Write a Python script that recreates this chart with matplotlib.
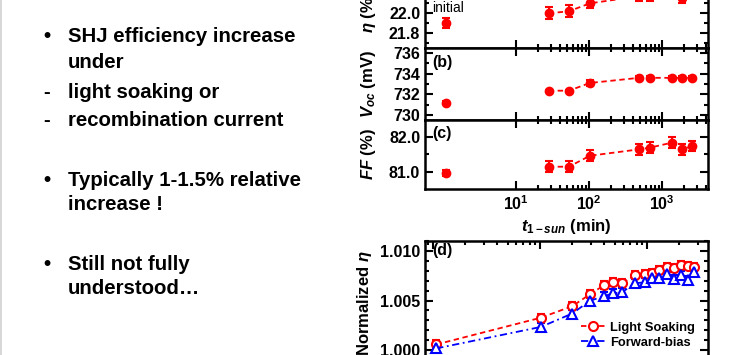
import matplotlib
matplotlib.use('Agg')
import matplotlib.pyplot as plt
from matplotlib.ticker import MultipleLocator, LogLocator, NullFormatter, FixedLocator
from matplotlib.lines import Line2D

plt.rcParams['font.family'] = ['Liberation Sans', 'DejaVu Sans']
plt.rcParams['font.weight'] = 'bold'
plt.rcParams['axes.labelweight'] = 'bold'
plt.rcParams['mathtext.fontset'] = 'custom'
plt.rcParams['mathtext.rm'] = 'Liberation Sans:bold'
plt.rcParams['mathtext.it'] = 'Liberation Sans:italic:bold'
plt.rcParams['mathtext.bf'] = 'Liberation Sans:bold'

# bullet text on the left
bullets = [('•', 'SHJ efficiency increase'), ('', 'under'),
           ('-', 'light soaking or'), ('-', 'recombination current'),
           ('•', 'Typically 1-1.5% relative'), ('', 'increase !'),
           ('•', 'Still not fully'), ('', 'understood…')]
bullet_y = [37, 62, 92, 121, 180, 204, 264, 288]

# panels (a)-(c): time under 1-sun (min)
t_sun = [1.1, 28, 53, 103, 484, 686, 1371, 1879, 2573]
eta = [21.9, 22.0, 22.02, 22.1, 22.17, 22.17, 22.22, 22.15, 22.2]
eta_err = [0.05, 0.06, 0.06, 0.05, 0.05, 0.05, 0.05, 0.05, 0.05]
voc = [731.2, 732.35, 732.35, 733.1, 733.6, 733.6, 733.6, 733.6, 733.6]
voc_err = [0.15, 0.1, 0.1, 0.3, 0.15, 0.15, 0.15, 0.15, 0.15]
ff = [80.98, 81.15, 81.15, 81.46, 81.64, 81.69, 81.83, 81.64, 81.73]
ff_err = [0.08, 0.15, 0.15, 0.15, 0.15, 0.15, 0.15, 0.15, 0.15]
major_t = [10, 100, 1000]
minor_t = [20, 30, 40, 50, 60, 70, 80, 90, 200, 300, 400, 500, 600, 700,
           800, 900, 2000, 3000, 4000]

# panel (d): normalized efficiency
t_d = [0.107, 1.02, 2.0, 2.93, 3.96, 4.81, 5.84, 7.73, 9.57, 11.1,
       13.0, 15.4, 17.9, 20.8, 24.2, 27.5]
ls_norm = [1.00057, 1.00327, 1.00443, 1.00563, 1.00654, 1.00684, 1.00674,
           1.00755, 1.00765, 1.00775, 1.00805, 1.00835, 1.00825, 1.00855,
           1.00845, 1.00835]
fb_norm = [1.00017, 1.00234, 1.00369, 1.00498, 1.00543, 1.00573, 1.00583,
           1.00674, 1.00684, 1.00724, 1.00724, 1.00765, 1.00714, 1.00755,
           1.00704, 1.00785]
norm_err = 0.0004

W, H = 738, 355
fig = plt.figure(figsize=(W / 100, H / 100), dpi=100)

def ax_px(x0, y0, x1, y1):
    return fig.add_axes([x0 / W, 1 - y1 / H, (x1 - x0) / W, (y1 - y0) / H])

fig.add_artist(Line2D([0.002, 0.002], [0, 1], color='#d0d0d0', lw=1.2))

for (mark, txt), y in zip(bullets, bullet_y):
    fig.text(43 / W, 1 - y / H, mark, fontsize=14.7, ha='left', va='center')
    fig.text(68 / W, 1 - y / H, txt, fontsize=14.7, ha='left', va='center')

red = '#ff0000'
blue = '#0000ff'
ls_red = (0, (3, 2))
ls_blue = (0, (4, 2, 1, 2))

def style(ax):
    for s in ax.spines.values():
        s.set_linewidth(1.8)
    ax.tick_params(which='both', direction='in', top=True, right=True,
                   width=1.5, labelsize=11.5)
    ax.tick_params(which='major', length=6)
    ax.tick_params(which='minor', length=3)

axa = ax_px(425, -24, 708, 48)
axb = ax_px(425, 48, 708, 120)
axc = ax_px(425, 120, 708, 189)

for ax, vals, err in [(axa, eta, eta_err), (axb, voc, voc_err), (axc, ff, ff_err)]:
    ax.errorbar(t_sun[:1], vals[:1], yerr=err[:1], fmt='o', color=red, ms=6,
                capsize=3, elinewidth=1.5, capthick=1.5)
    ax.errorbar(t_sun[1:], vals[1:], yerr=err[1:], fmt='o', color=red, ms=6,
                capsize=3, elinewidth=1.5, capthick=1.5, ls=ls_red, lw=1.3)
    ax.set_xscale('log')
    ax.set_xlim(0.567, 4266)
    ax.xaxis.set_major_locator(FixedLocator(major_t))
    ax.xaxis.set_minor_locator(FixedLocator(minor_t))
    ax.xaxis.set_minor_formatter(NullFormatter())
    style(ax)

axa.set_ylim(21.653, 22.373)
axa.yaxis.set_major_locator(MultipleLocator(0.2))
axa.yaxis.set_minor_locator(MultipleLocator(0.1))
axa.yaxis.set_major_formatter('{x:.1f}')
axa.set_ylabel(r'$\eta$ (%)', fontsize=12)
axa.text(0.025, 0.555, 'initial', transform=axa.transAxes, fontsize=10,
         fontweight='normal', ha='left', va='center')

axb.set_ylim(729.5, 736.5)
axb.yaxis.set_major_locator(MultipleLocator(2))
axb.yaxis.set_minor_locator(MultipleLocator(1))
axb.set_ylabel(r'$V_{oc}$ (mV)', fontsize=12)
axb.text(0.025, 0.8, '(b)', transform=axb.transAxes, fontsize=11.5, va='center')

axc.set_ylim(80.52, 82.47)
axc.yaxis.set_major_locator(MultipleLocator(1.0))
axc.yaxis.set_minor_locator(MultipleLocator(0.5))
axc.yaxis.set_major_formatter('{x:.1f}')
axc.set_ylabel(r'$FF$ (%)', fontsize=12)
axc.text(0.025, 0.8, '(c)', transform=axc.transAxes, fontsize=11.5, va='center')
axc.set_xlabel(r'$t_{1-sun}$ (min)', fontsize=12, labelpad=3)

axa.tick_params(labelbottom=False)
axb.tick_params(labelbottom=False)
for ax in (axa, axb, axc):
    ax.yaxis.set_label_coords(-0.165, 0.5)

axd = ax_px(425, 241, 708, 365)
axd.errorbar(t_d, ls_norm, yerr=norm_err, fmt='o', mfc='white', mec=red,
             color=red, ms=6.5, mew=1.5, capsize=3, elinewidth=1.3, capthick=1.3,
             ls=ls_red, lw=1.3)
axd.errorbar(t_d, fb_norm, yerr=norm_err, fmt='^', mfc='white', mec=blue,
             color=blue, ms=6.5, mew=1.5, capsize=3, elinewidth=1.3, capthick=1.3,
             ls=ls_blue, lw=1.3)
axd.set_xscale('log')
axd.set_xlim(0.084, 37.2)
axd.xaxis.set_minor_locator(LogLocator(base=10, subs=range(2, 10), numticks=20))
axd.xaxis.set_minor_formatter(NullFormatter())
axd.set_ylim(0.9985, 1.011)
axd.yaxis.set_major_locator(MultipleLocator(0.005))
axd.yaxis.set_minor_locator(MultipleLocator(0.001))
axd.yaxis.set_major_formatter('{x:.3f}')
style(axd)
axd.set_ylabel(r'Normalized $\eta$', fontsize=12)
axd.yaxis.set_label_coords(-0.18, 0.5)
axd.text(0.025, 0.92, '(d)', transform=axd.transAxes, fontsize=11.5, va='center')

handles = [Line2D([], [], color=red, ls=ls_red, lw=1.3, marker='o', ms=6.5,
                  mfc='white', mec=red, mew=1.5),
           Line2D([], [], color=blue, ls=ls_blue, lw=1.3, marker='^', ms=6.5,
                  mfc='white', mec=blue, mew=1.5)]
axd.legend(handles, ['Light Soaking', 'Forward-bias'], loc='upper left',
           bbox_to_anchor=(0.55, 0.35), frameon=False, fontsize=9.3,
           handlelength=1.9, handletextpad=0.4, labelspacing=0.25,
           borderaxespad=0, borderpad=0)

fig.savefig('out.png', dpi=100)
